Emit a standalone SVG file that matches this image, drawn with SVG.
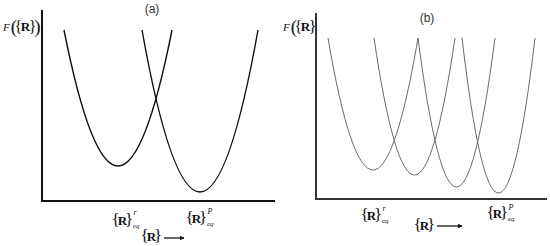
<svg xmlns="http://www.w3.org/2000/svg" width="550" height="246" viewBox="0 0 550 246">
<defs>
<style>
.ser{font-family:"Liberation Serif","Times New Roman",serif;fill:#111}
.br{font-size:17px}
.rb{font-size:13px;font-weight:bold}
.it{font-style:italic}
.sup{font-size:8px;font-style:italic}
.sub{font-size:7px;font-style:italic}
.lab{font-family:"Liberation Sans",Arial,sans-serif;font-size:12px;fill:#333}
.ax{stroke:#111;stroke-width:2;fill:none}
.ca{stroke:#111;stroke-width:1.4;fill:none}
.cb{stroke:#6a6a6a;stroke-width:1;fill:none}
.arr{stroke:#111;stroke-width:1.3}
</style>
<marker id="ah" viewBox="0 0 10 10" refX="9" refY="5" markerWidth="5" markerHeight="5" orient="auto" markerUnits="userSpaceOnUse"><path d="M0,0 L10,5 L0,10 z" fill="#111"/></marker>
</defs>

<g id="panel-a">
  <g id="axes-a"><path class="ax" d="M42,10 V201 H275"/></g>
  <text id="title-a" class="lab" x="152" y="13" text-anchor="middle">(a)</text>
  <text id="ylabel-a" class="ser" x="3" y="32"><tspan class="it" font-size="11" dy="-1">F</tspan><tspan font-size="19" dx="1" dy="2">(</tspan><tspan font-size="16" dx="-2.5" dy="-1">{</tspan><tspan class="rb" font-size="11" dx="-1.5" dy="-1">R</tspan><tspan font-size="16" dx="-1.5" dy="1">}</tspan><tspan font-size="19" dx="-2" dy="1">)</tspan></text>
  <g id="connectors-a">
    <path id="curve-a-r" class="ca" d="M64,30 Q118,302 172,30"/>
    <path id="curve-a-p" class="ca" d="M142,30 Q200,354 258,30"/>
  </g>
  <g id="label-a-r" class="ser" transform="translate(113,220)">
    <text x="-1.5" y="5"><tspan class="br">{</tspan><tspan class="rb" dx="-2">R</tspan><tspan class="br" dx="-2">}</tspan></text>
    <text class="sup" x="20.5" y="-5">r</text><text class="sub" x="20" y="8">eq</text>
  </g>
  <g id="label-a-p" class="ser" transform="translate(187,218)">
    <text x="-1.5" y="5"><tspan class="br">{</tspan><tspan class="rb" dx="-2">R</tspan><tspan class="br" dx="-2">}</tspan></text>
    <text class="sup" x="20.5" y="-4">P</text><text class="sub" x="20" y="8">eq</text>
  </g>
  <g id="label-a-x" class="ser" transform="translate(142,236)">
    <text x="-1.5" y="5"><tspan class="br">{</tspan><tspan class="rb" dx="-2">R</tspan><tspan class="br" dx="-2">}</tspan></text>
    <line class="arr" x1="22" y1="2" x2="42" y2="2" marker-end="url(#ah)"/>
  </g>
</g>

<g id="panel-b">
  <g id="axes-b"><path class="ax" style="stroke:#333" d="M316,13 V199 H547"/></g>
  <text id="title-b" class="lab" x="427" y="22" text-anchor="middle">(b)</text>
  <text id="ylabel-b" class="ser" x="283" y="32"><tspan class="it" font-size="11" dy="-1">F</tspan><tspan font-size="19" dx="1" dy="2">(</tspan><tspan font-size="16" dx="-2.5" dy="-1">{</tspan><tspan class="rb" font-size="11" dx="-1.5" dy="-1">R</tspan><tspan font-size="16" dx="-1.5" dy="1">}</tspan></text>
  <g id="connectors-b">
    <path class="cb" d="M328,38 Q373,302 418,38"/>
    <path class="cb" d="M374,38 Q414.5,312 455,38"/>
    <path class="cb" d="M418,38 Q456.5,336 495,38"/>
    <path class="cb" d="M462,38 Q498.5,348 535,38"/>
  </g>
  <g id="label-b-r" class="ser" transform="translate(362,215)">
    <text x="-1.5" y="5"><tspan class="br">{</tspan><tspan class="rb" dx="-2">R</tspan><tspan class="br" dx="-2">}</tspan></text>
    <text class="sup" x="20.5" y="-4">r</text><text class="sub" x="20" y="8">eq</text>
  </g>
  <g id="label-b-p" class="ser" transform="translate(488,213)">
    <text x="-1.5" y="5"><tspan class="br">{</tspan><tspan class="rb" dx="-2">R</tspan><tspan class="br" dx="-2">}</tspan></text>
    <text class="sup" x="20.5" y="-3">P</text><text class="sub" x="20" y="8">eq</text>
  </g>
  <g id="label-b-x" class="ser" transform="translate(415,225)">
    <text x="-1.5" y="5"><tspan class="br">{</tspan><tspan class="rb" dx="-2">R</tspan><tspan class="br" dx="-2">}</tspan></text>
    <line class="arr" x1="22" y1="1" x2="47" y2="1" marker-end="url(#ah)"/>
  </g>
</g>
</svg>
